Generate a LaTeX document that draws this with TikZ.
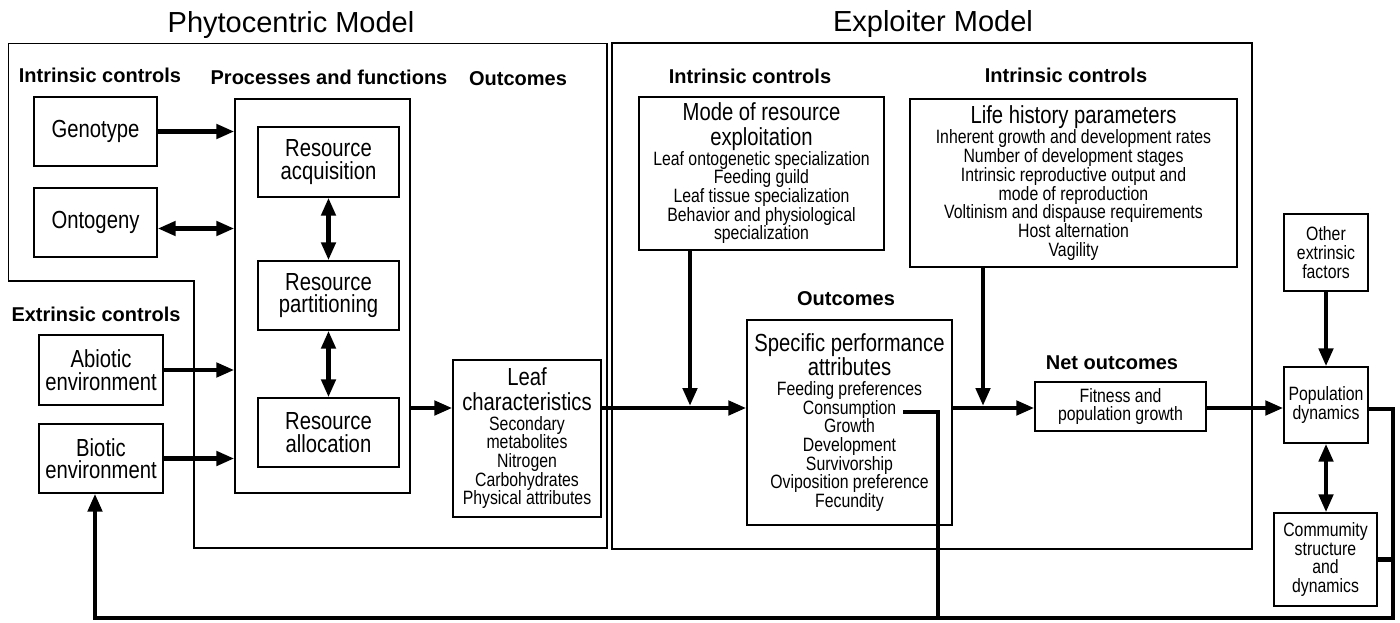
\documentclass[tikz,border=0pt]{standalone}
\usepackage{fontspec}
\setmainfont{Liberation Sans}
\newfontfamily\narrowfont{Liberation Sans}[FakeStretch=0.82]
\usetikzlibrary{arrows.meta}
\newcommand\bigtxt{\narrowfont\fontsize{24.7}{22.5}\selectfont}
\newcommand\smalltxt{\narrowfont\fontsize{19.3}{18.7}\selectfont}
\newcommand\headtxt{\bfseries\fontsize{20}{22}\selectfont}
\newcommand\titletxt{\fontsize{29}{32}\selectfont}
\newcommand\bigline[1]{{\bigtxt\vphantom{hy}#1}}
\tikzset{
  box/.style={draw, line width=1.3pt, align=center, inner sep=2pt},
  frame/.style={draw, line width=1.3pt},
  head/.style={anchor=base, font=\headtxt, inner sep=0pt},
  arr/.style={line width=4.5pt, -{Triangle[length=18pt,width=14pt]}},
  dbl/.style={line width=4.5pt, {Triangle[length=18pt,width=14pt]}-{Triangle[length=18pt,width=14pt]}},
  fb/.style={line width=4.5pt}
}
\begin{document}
\begin{tikzpicture}[x=1pt,y=-1pt]
\useasboundingbox (0,0) rectangle (1400,623);
% model frames
\draw[frame] (8.7,43.3) -- (607,43.3) -- (607,548) -- (194,548) -- (194,281) -- (8.7,281) -- cycle;
\draw[frame] (612,43) rectangle (1252,549);
\node[anchor=base, font=\titletxt] (phyt) at (291,33) {Phytocentric Model};
\node[anchor=base, font=\titletxt] (expl) at (933,32) {Exploiter Model};
% headings
\node[head] (hintr) at (100,83) {Intrinsic controls};
\node[head] (hproc) at (329,85) {Processes and functions};
\node[head] (hout) at (518,86) {Outcomes};
\node[head] (hextr) at (96,321.5) {Extrinsic controls};
\node[head] (hmode) at (750,84) {Intrinsic controls};
\node[head] (hlife) at (1066,83) {Intrinsic controls};
\node[head] (hspec) at (846,305) {Outcomes};
\node[head] (hnet) at (1112,369) {Net outcomes};
% phytocentric boxes
\node[box, font=\bigtxt, minimum width=123, minimum height=69] (geno) at (95.5,131.5) {Genotype};
\node[box, font=\bigtxt, minimum width=123, minimum height=69] (onto) at (95.5,222.5) {Ontogeny};
\node[box, font=\bigtxt, minimum width=124, minimum height=70] (abio) at (101,370) {Abiotic\\environment};
\node[box, font=\bigtxt, minimum width=124, minimum height=69] (bio) at (101,458.5) {Biotic\\environment};
\node[box, minimum width=175, minimum height=394] (proc) at (322.5,296) {};
\node[box, font=\bigtxt, minimum width=141, minimum height=70] (acq) at (328.5,162) {Resource\\acquisition};
\node[box, font=\bigtxt, minimum width=141, minimum height=69] (part) at (328.5,295.5) {Resource\\partitioning};
\node[box, font=\bigtxt, minimum width=141, minimum height=69] (alloc) at (328.5,432.5) {Resource\\allocation};
\node[box, font=\smalltxt, minimum width=148, minimum height=157] (leaf) at (527,438.5)
  {\bigline{Leaf}\\\bigline{characteristics}\\Secondary\\metabolites\\Nitrogen\\Carbohydrates\\Physical attributes};
% exploiter boxes
\node[box, font=\smalltxt, minimum width=245, minimum height=153] (mode) at (761.5,173.5)
  {\bigline{Mode of resource}\\\bigline{exploitation}\\Leaf ontogenetic specialization\\Feeding guild\\Leaf tissue specialization\\Behavior and physiological\\specialization};
\node[box, font=\smalltxt, minimum width=327, minimum height=168] (life) at (1073.5,183)
  {\bigline{Life history parameters}\\Inherent growth and development rates\\Number of development stages\\Intrinsic reproductive output and\\mode of reproduction\\Voltinism and dispause requirements\\Host alternation\\Vagility};
\node[box, font=\smalltxt, minimum width=205, minimum height=205] (spec) at (849.5,422.5)
  {\bigline{Specific performance}\\\bigline{attributes}\\Feeding preferences\\Consumption\\Growth\\Development\\Survivorship\\Oviposition preference\\Fecundity};
\node[box, font=\smalltxt, minimum width=171, minimum height=49] (fit) at (1120.5,406.5) {Fitness and\\population growth};
\node[box, font=\smalltxt, minimum width=84, minimum height=77] (other) at (1326,252.5) {Other\\extrinsic\\factors};
\node[box, font=\smalltxt, minimum width=84, minimum height=76] (pop) at (1326,405) {Population\\dynamics};
\node[box, font=\smalltxt, minimum width=103, minimum height=93] (comm) at (1325.5,559.5) {Commumity\\structure\\and\\dynamics};
% connectors
\coordinate (flow) at (0,408);
\coordinate (jmode) at (690,408);
\coordinate (jlife) at (983,408);
\coordinate (cons) at (903,412);
\coordinate (consB) at (938,618);
\coordinate (fbR) at (1393,618);
\coordinate (fbL) at (95,618);
\draw[arr] (geno.east) -- (geno.east -| proc.west);
\draw[dbl] ([yshift=-6pt]onto.east) -- ([yshift=-6pt]onto.east -| proc.west);
\draw[arr] (abio.east) -- (abio.east -| proc.west);
\draw[arr] (bio.east) -- (bio.east -| proc.west);
\draw[dbl] (acq) -- (part);
\draw[dbl] (part) -- (alloc);
\draw[arr] (proc.east |- flow) -- (leaf.west |- flow);
\draw[arr] (leaf.east |- flow) -- (spec.west |- flow);
\draw[arr] (mode.south -| jmode) -- ([yshift=2pt]jmode);
\draw[arr] (spec.east |- flow) -- (fit.west |- flow);
\draw[arr] (life.south -| jlife) -- ([yshift=2pt]jlife);
\draw[arr] (fit.east |- flow) -- (pop.west |- flow);
\draw[arr] (other) -- (pop);
\draw[dbl] (pop.south) -- (pop.south |- comm.north);
% feedback loop
\draw[fb] (comm.east) -- (comm.east -| fbR);
\draw[fb] (cons) -- (cons -| consB) -- (consB);
\draw[arr] ([yshift=-4pt]pop.east) -- ([yshift=-4pt]pop.east -| fbR) -- (fbR) -- (fbL) -- (bio.south -| fbL);
\end{tikzpicture}
\end{document}
